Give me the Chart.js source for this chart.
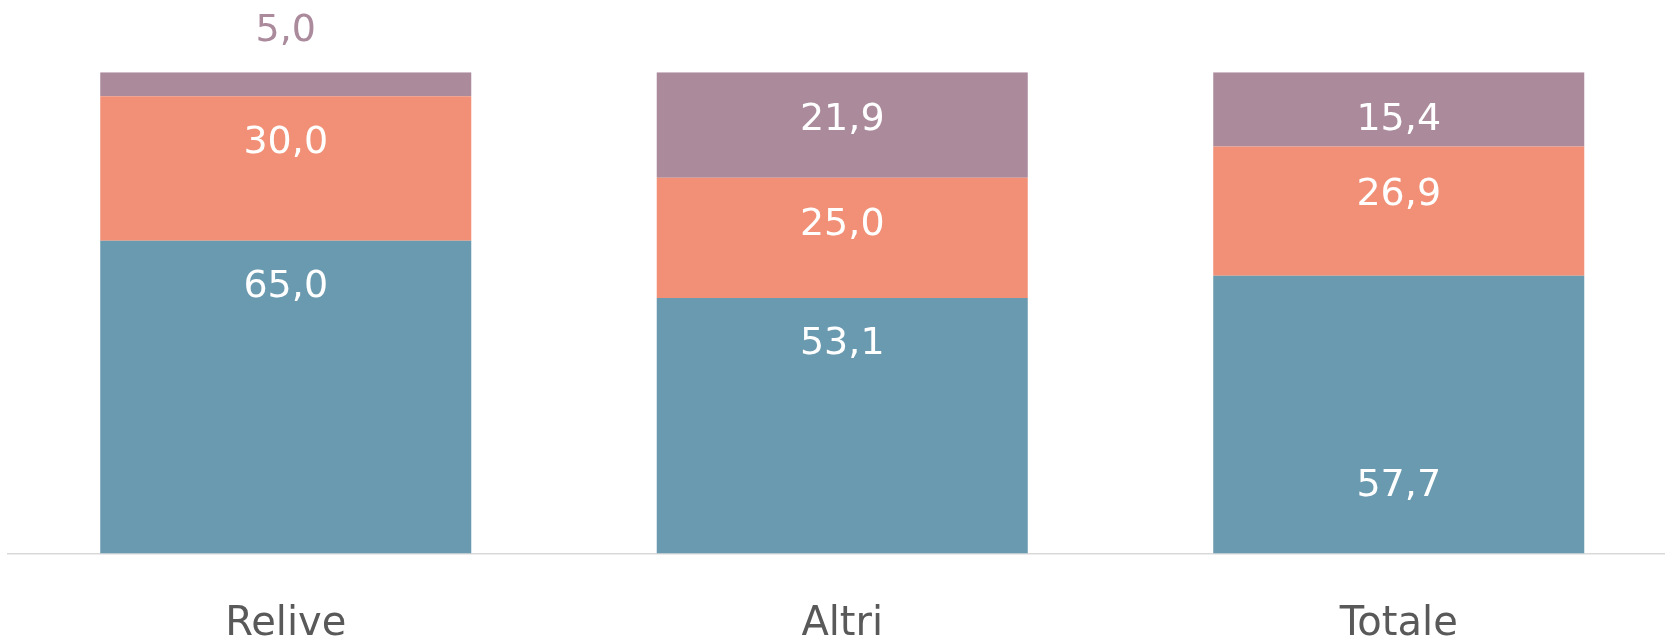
<!DOCTYPE html>
<html>
<head>
<meta charset="utf-8">
<script src="https://cdn.jsdelivr.net/npm/chart.js@4"></script>
<style>
  html, body { margin: 0; padding: 0; background: #fff; overflow: hidden; }
  #wrap { width: 1677px; height: 642px; }
</style>
</head>
<body>
<div id="wrap"><canvas id="chart"></canvas></div>
<script>
const categories = ['Relive', 'Altri', 'Totale'];
const bassa = [65.0, 53.1, 57.7];
const media = [30.0, 25.0, 26.9];
const alta = [5.0, 21.9, 15.4];

// where each label sits, in axis units (labels were moved by hand in the original)
const bassaLabelAt = [55.9, 44.0, 14.4];
const mediaLabelAt = [85.7, 68.7, 74.9];
const altaLabelAt = [108.9, 90.6, 90.6];

const fmt = v => v.toFixed(1).replace('.', ',');

const labelPlugin = {
  id: 'segLabels',
  afterDatasetsDraw(chart) {
    const ctx = chart.ctx;
    const y = chart.scales.y;
    ctx.save();
    ctx.font = '38px "DejaVu Sans"';
    ctx.textAlign = 'center';
    ctx.textBaseline = 'alphabetic';
    chart.data.datasets.forEach((ds, d) => {
      const meta = chart.getDatasetMeta(d);
      meta.data.forEach((bar, i) => {
        const v = ds.data[i];
        const at = ds.labelAt[i];
        ctx.fillStyle = at > 100 ? ds.backgroundColor : '#ffffff';
        ctx.fillText(fmt(v), bar.x, y.getPixelForValue(at) + 12);
      });
    });
    ctx.restore();
  }
};

new Chart(document.getElementById('chart'), {
  type: 'bar',
  data: {
    labels: categories,
    datasets: [
      { label: 'bassa', data: bassa, labelAt: bassaLabelAt, backgroundColor: '#6A9AAF' },
      { label: 'media', data: media, labelAt: mediaLabelAt, backgroundColor: '#F19076' },
      { label: 'alta', data: alta, labelAt: altaLabelAt, backgroundColor: '#AB8A9C' }
    ]
  },
  options: {
    responsive: true,
    maintainAspectRatio: false,
    animation: false,
    layout: { padding: { left: 7.5, right: 0, top: 72.3, bottom: 0 } },
    datasets: { bar: { categoryPercentage: 0.6667, barPercentage: 1 } },
    plugins: { legend: { display: false }, tooltip: { enabled: false } },
    scales: {
      x: {
        stacked: true,
        grid: { display: false, drawTicks: false },
        border: { color: '#D9D9D9', width: 1.5 },
        ticks: { color: '#595959', font: { family: 'DejaVu Sans', size: 40 }, padding: 47 },
        afterFit(scale) { scale.height = 88.5; }
      },
      y: {
        stacked: true,
        display: false,
        min: 0,
        max: 100
      }
    }
  },
  plugins: [labelPlugin]
});
</script>
</body>
</html>
